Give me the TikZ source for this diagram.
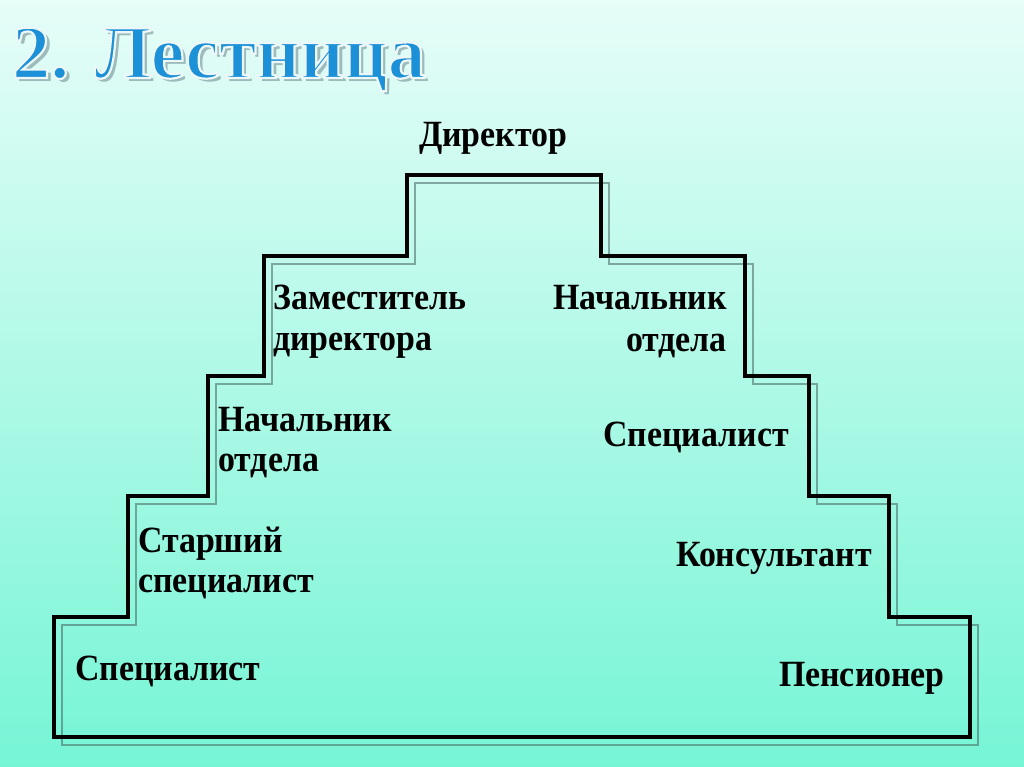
\documentclass[tikz,border=0pt]{standalone}
\usepackage{fontspec}
\setmainfont{Liberation Serif}
\newfontfamily\lblfont[FakeStretch=0.915]{Liberation Serif}
\newcommand{\outlineon}{\special{pdf:literal direct 2 Tr 2.2 w 0.93 0.97 0.97 RG}}
\newcommand{\outlineoff}{\special{pdf:literal direct 0 Tr}}
\begin{document}
\begin{tikzpicture}[x=1pt,y=-1pt,
  lbl/.style={inner sep=0pt,font=\lblfont\fontsize{37}{41}\selectfont\bfseries},
  stairline/.style={line width=3.5pt,black,line join=miter},
  stairshadow/.style={line width=2.5pt,draw={rgb,255:red,70;green,100;blue,95},opacity=0.55,line join=miter},
  ttl/.style={inner sep=0pt,anchor=base west,font=\fontsize{76}{80}\selectfont\bfseries}]
\useasboundingbox (0,0) rectangle (1024,767);
\shade[top color={rgb,255:red,230;green,253;blue,248},bottom color={rgb,255:red,118;green,245;blue,213}] (0,0) rectangle (1024,767);
% title
\node[ttl,text={rgb,255:red,60;green,90;blue,100},opacity=0.4] (titleshadow) at (16,82) {2. Лестница};
\node[ttl,text={rgb,255:red,28;green,145;blue,215}] (title) at (12,78) {\outlineon 2. Лестница\outlineoff};
% staircase
\begin{scope}[shift={(8,8)}]
\draw[stairshadow] (54,737) -- (54,617) -- (128,617) -- (128,496) -- (208,496) -- (208,376) -- (264,376) -- (264,256) -- (407,256) -- (407,175) -- (601,175) -- (601,256) -- (745,256) -- (745,376) -- (809,376) -- (809,496) -- (889,496) -- (889,617) -- (970,617) -- (970,737) -- cycle;
\end{scope}
\draw[stairline] (54,737) -- (54,617) -- (128,617) -- (128,496) -- (208,496) -- (208,376) -- (264,376) -- (264,256) -- (407,256) -- (407,175) -- (601,175) -- (601,256) -- (745,256) -- (745,376) -- (809,376) -- (809,496) -- (889,496) -- (889,617) -- (970,617) -- (970,737) -- cycle;
% labels
\node[lbl,anchor=base west] (dir) at (419,147) {Директор};
\node[lbl,anchor=base west] (zam1) at (273,309) {Заместитель};
\node[lbl,anchor=base west] (zam2) at (273,350) {директора};
\node[lbl,anchor=base west] (nachL1) at (218,431) {Начальник};
\node[lbl,anchor=base west] (nachL2) at (218,471) {отдела};
\node[lbl,anchor=base west] (st1) at (138,552) {Старший};
\node[lbl,anchor=base west] (st2) at (138,592) {специалист};
\node[lbl,anchor=base west] (specL) at (75,680) {Специалист};
\node[lbl,anchor=base east] (nachR1) at (727,309) {Начальник};
\node[lbl,anchor=base east] (nachR2) at (727,351) {отдела};
\node[lbl,anchor=base east] (specR) at (789,446) {Специалист};
\node[lbl,anchor=base east] (kons) at (872,566) {Консультант};
\node[lbl,anchor=base east] (pens) at (945,686) {Пенсионер};
\end{tikzpicture}
\end{document}
